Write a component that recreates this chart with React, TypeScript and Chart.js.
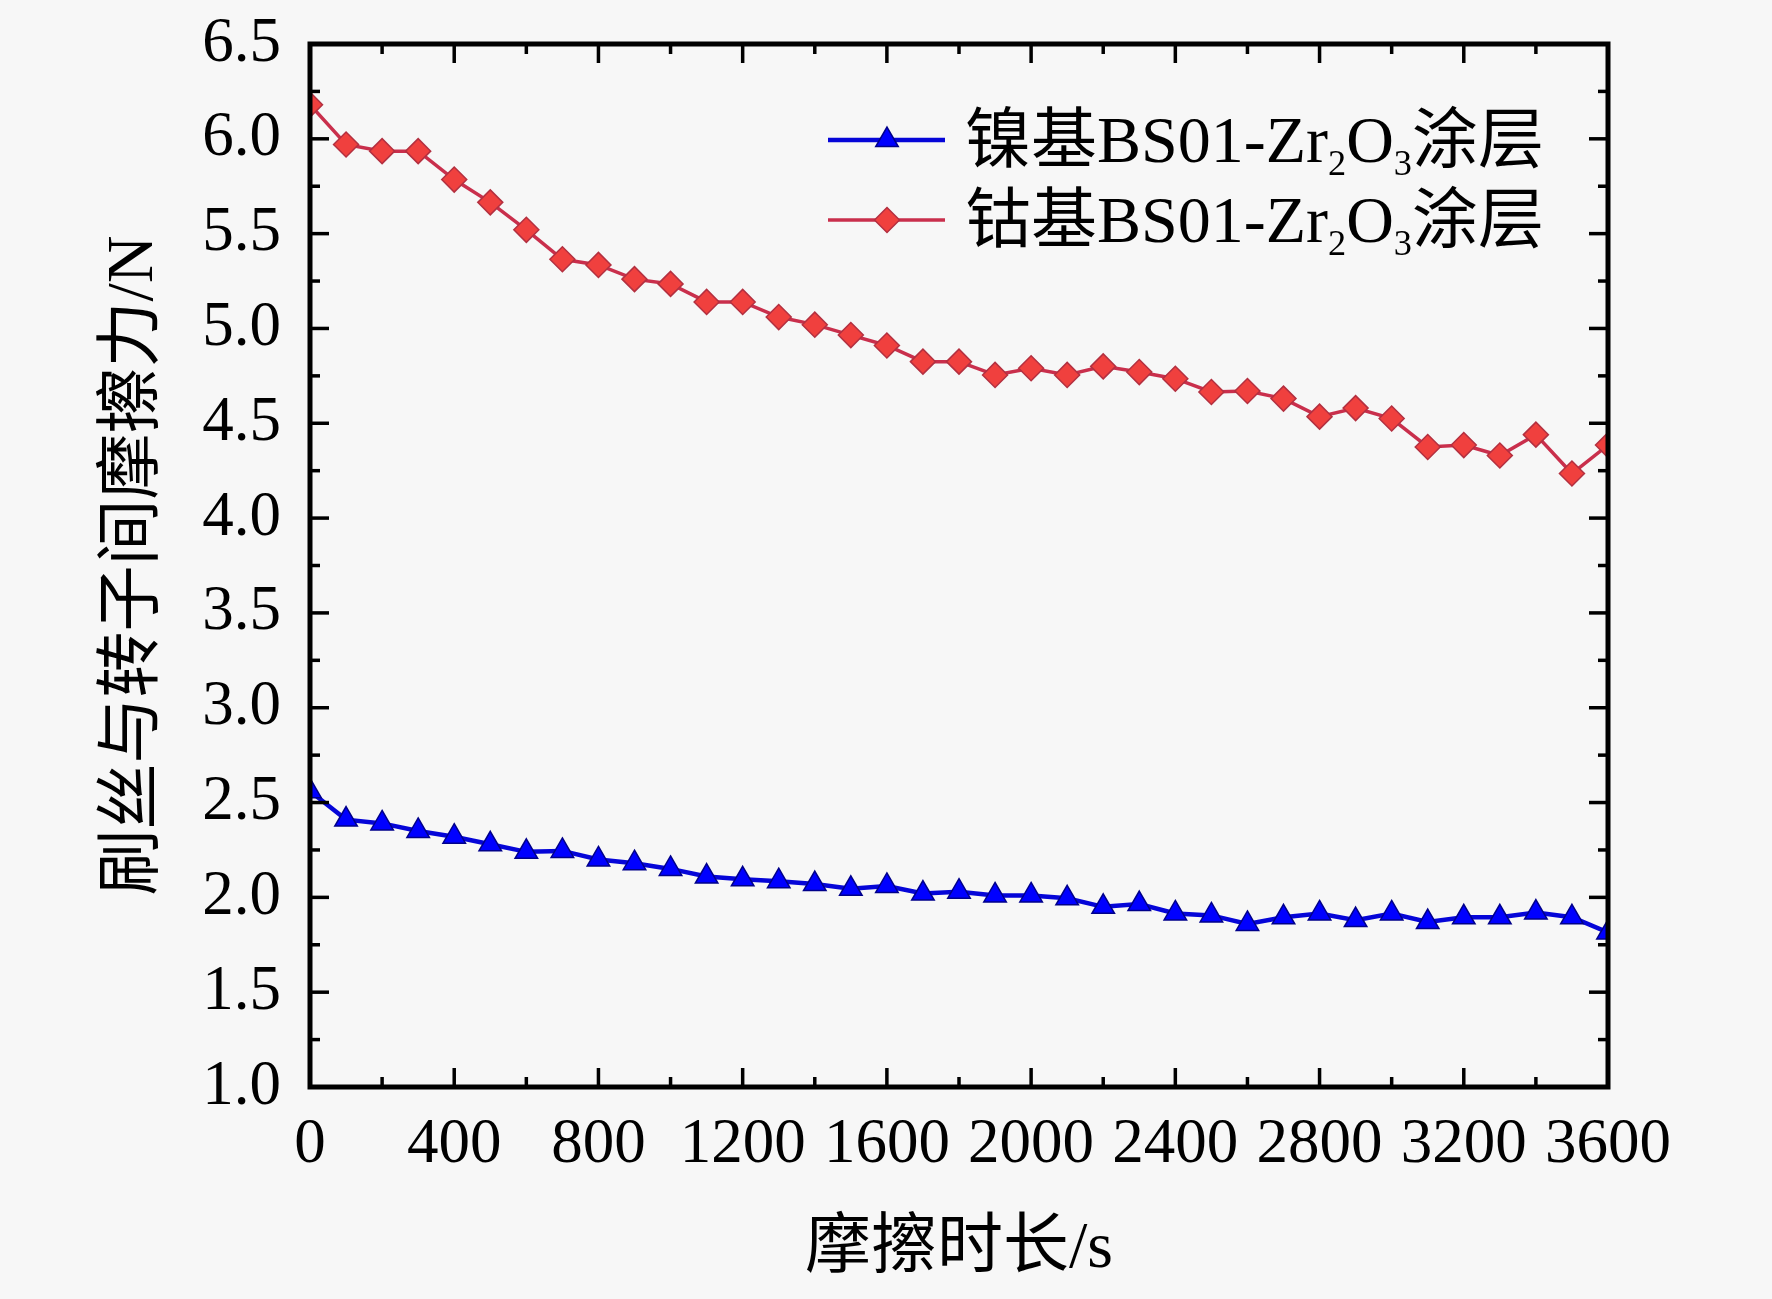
import { useEffect, useRef } from "react";
import { Chart, registerables } from "chart.js";
import { drawPoint } from "chart.js/helpers";

Chart.register(...registerables);

// 摩擦时长 (s)
const times = [
  0, 100, 200, 300, 400, 500, 600, 700, 800, 900, 1000, 1100, 1200, 1300,
  1400, 1500, 1600, 1700, 1800, 1900, 2000, 2100, 2200, 2300, 2400, 2500,
  2600, 2700, 2800, 2900, 3000, 3100, 3200, 3300, 3400, 3500, 3600,
];

// 镍基 coating friction force (N)
const nickelForce = [
  2.56, 2.41, 2.39, 2.35, 2.32, 2.28, 2.24, 2.245, 2.2, 2.18, 2.15, 2.11,
  2.095, 2.085, 2.07, 2.045, 2.06, 2.02, 2.03, 2.01, 2.01, 1.995, 1.95, 1.965,
  1.915, 1.905, 1.86, 1.895, 1.915, 1.88, 1.915, 1.87, 1.895, 1.895, 1.92,
  1.895, 1.815,
];

// 钴基 coating friction force (N)
const cobaltForce = [
  6.18, 5.97, 5.935, 5.935, 5.785, 5.665, 5.52, 5.365, 5.335, 5.26, 5.235,
  5.14, 5.14, 5.06, 5.02, 4.965, 4.91, 4.825, 4.825, 4.755, 4.79, 4.755, 4.8,
  4.77, 4.735, 4.665, 4.67, 4.63, 4.535, 4.58, 4.525, 4.375, 4.385, 4.33,
  4.44, 4.235, 4.385,
];

const seriesNames = ["镍基BS01-Zr₂O₃涂层", "钴基BS01-Zr₂O₃涂层"];

const xTickValues = [0, 400, 800, 1200, 1600, 2000, 2400, 2800, 3200, 3600];
const yTickValues = [1.0, 1.5, 2.0, 2.5, 3.0, 3.5, 4.0, 4.5, 5.0, 5.5, 6.0, 6.5];

const xTitle = "摩擦时长/s";
const yTitle = "刷丝与转子间摩擦力/N";

const FONT = "'Liberation Serif', 'Times New Roman', 'Noto Sans CJK SC', serif";
const BG = "#f7f7f7";

const SUBS = "₀₁₂₃₄₅₆₇₈₉";

// split "Zr₂O₃" style text into normal / subscript runs
function splitSubs(text: string) {
  const parts: { t: string; sub: boolean }[] = [];
  for (const ch of text) {
    const i = SUBS.indexOf(ch);
    const sub = i >= 0;
    const c = sub ? String(i) : ch;
    const last = parts[parts.length - 1];
    if (last && last.sub === sub) last.t += c;
    else parts.push({ t: c, sub });
  }
  return parts;
}

function drawRichText(ctx: CanvasRenderingContext2D, text: string, x: number, baseline: number, size: number) {
  let cx = x;
  for (const part of splitSubs(text)) {
    const s = part.sub ? size * 0.55 : size;
    ctx.font = `${s}px ${FONT}`;
    ctx.fillText(part.t, cx, baseline + (part.sub ? size * 0.2 : 0));
    cx += ctx.measureText(part.t).width;
  }
}

const framePlugin = {
  id: "frame",
  beforeDraw(chart: any) {
    const { ctx, width, height } = chart;
    ctx.save();
    ctx.fillStyle = BG;
    ctx.fillRect(0, 0, width, height);
    ctx.restore();
  },
  afterDraw(chart: any) {
    const { ctx, chartArea: a, scales } = chart;
    const xs = scales.x;
    const ys = scales.y;
    ctx.save();
    ctx.strokeStyle = "#000";
    ctx.lineCap = "butt";

    const line = (x1: number, y1: number, x2: number, y2: number) => {
      ctx.beginPath();
      ctx.moveTo(x1, y1);
      ctx.lineTo(x2, y2);
      ctx.stroke();
    };
    const withMinor = (vals: number[]) => {
      const out: { v: number; major: boolean }[] = [];
      vals.forEach((v, i) => {
        out.push({ v, major: true });
        if (i < vals.length - 1) out.push({ v: (v + vals[i + 1]) / 2, major: false });
      });
      return out;
    };

    ctx.lineWidth = 3.5;
    for (const t of withMinor(ys.ticks.map((k: any) => k.value))) {
      const py = ys.getPixelForValue(t.v);
      const len = t.major ? 19 : 10;
      line(a.left, py, a.left + len, py);
      line(a.right, py, a.right - len, py);
    }
    for (const t of withMinor(xs.ticks.map((k: any) => k.value))) {
      const px = xs.getPixelForValue(t.v);
      const len = t.major ? 19 : 10;
      line(px, a.bottom, px, a.bottom - len);
      line(px, a.top, px, a.top + len);
    }

    ctx.lineWidth = 5;
    ctx.strokeRect(a.left, a.top, a.right - a.left, a.bottom - a.top);

    // legend
    chart.data.datasets.forEach((ds: any, i: number) => {
      const cy = 140 + i * 80;
      ctx.strokeStyle = ds.borderColor;
      ctx.lineWidth = ds.borderWidth;
      line(828, cy, 945, cy);
      ctx.fillStyle = ds.pointBackgroundColor;
      ctx.strokeStyle = ds.pointBorderColor;
      ctx.lineWidth = ds.pointBorderWidth;
      drawPoint(ctx, { pointStyle: ds.pointStyle, radius: ds.pointRadius, rotation: 0, borderWidth: ds.pointBorderWidth }, 887, cy);
      ctx.fillStyle = "#000";
      ctx.textAlign = "left";
      ctx.textBaseline = "alphabetic";
      drawRichText(ctx, ds.label, 965, cy + 22, 66);
    });
    ctx.restore();
  },
};

export default function App() {
  const canvasRef = useRef<HTMLCanvasElement | null>(null);

  useEffect(() => {
    if (canvasRef.current == null) return;
    const tickFont = { family: FONT, size: 63 };
    const titleFont = { family: FONT, size: 66 };

    const chart = new Chart(canvasRef.current, {
      type: "line",
      data: {
        datasets: [
          {
            label: seriesNames[0],
            data: times.map((t, i) => ({ x: t, y: nickelForce[i] })),
            borderColor: "#0505d8",
            borderWidth: 4.5,
            pointStyle: "triangle",
            pointRadius: 13,
            pointBackgroundColor: "#0000ff",
            pointBorderColor: "#00008a",
            pointBorderWidth: 1.5,
            clip: 0,
          },
          {
            label: seriesNames[1],
            data: times.map((t, i) => ({ x: t, y: cobaltForce[i] })),
            borderColor: "#c92f4c",
            borderWidth: 3.5,
            pointStyle: "rectRot",
            pointRadius: 12.5,
            pointBackgroundColor: "#f0403e",
            pointBorderColor: "#b33040",
            pointBorderWidth: 1.5,
            clip: 0,
          },
        ],
      },
      options: {
        animation: false,
        responsive: true,
        maintainAspectRatio: false,
        devicePixelRatio: 1,
        layout: { padding: { left: 0, top: 44, right: 164, bottom: 0 } },
        plugins: {
          legend: { display: false },
          tooltip: { enabled: false },
        },
        scales: {
          x: {
            type: "linear",
            min: 0,
            max: 3600,
            afterBuildTicks: (s: any) => {
              s.ticks = xTickValues.map((v) => ({ value: v }));
            },
            afterFit: (s: any) => {
              s.height = 212;
            },
            grid: { display: false },
            border: { display: false },
            ticks: {
              font: tickFont,
              color: "#000",
              padding: 13,
              maxRotation: 0,
              autoSkip: false,
              callback: (v: any) => String(v),
            },
            title: {
              display: true,
              text: xTitle,
              font: titleFont,
              color: "#000",
              padding: { bottom: 10 },
            },
          },
          y: {
            type: "linear",
            min: 1,
            max: 6.5,
            afterBuildTicks: (s: any) => {
              s.ticks = yTickValues.map((v) => ({ value: v }));
            },
            afterFit: (s: any) => {
              s.width = 310;
              s.paddingTop = 0;
              s.paddingBottom = 0;
            },
            grid: { display: false },
            border: { display: false },
            ticks: {
              font: tickFont,
              color: "#000",
              padding: 21,
              autoSkip: false,
              callback: (v: any) => Number(v).toFixed(1),
            },
            title: {
              display: true,
              text: yTitle,
              font: titleFont,
              color: "#000",
              padding: { top: 95 },
            },
          },
        },
      },
      plugins: [framePlugin],
    });

    return () => {
      chart.destroy();
    };
  }, []);

  return (
    <div style={{ position: "fixed", left: 0, top: 0, width: 1772, height: 1299, background: BG }}>
      <canvas ref={canvasRef}></canvas>
    </div>
  );
}
